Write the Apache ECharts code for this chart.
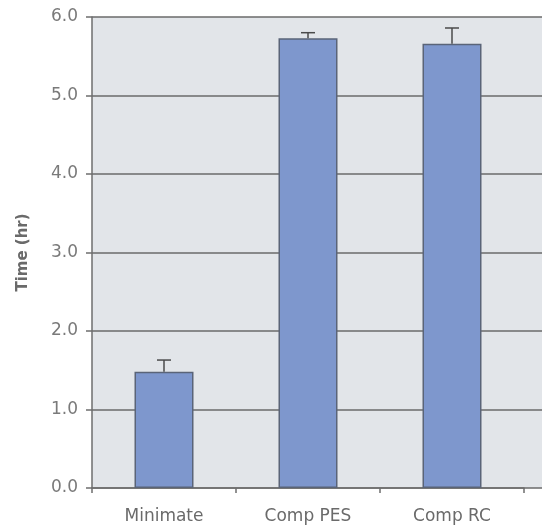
<!DOCTYPE html>
<html>
<head>
<meta charset="utf-8">
<script src="https://cdn.jsdelivr.net/npm/echarts@6/dist/echarts.min.js"></script>
<style>html,body{margin:0;padding:0;background:#fff;}#c{width:542px;height:530px;}</style>
</head>
<body>
<div id="c"></div>
<script>
var categories = ['Minimate', 'Comp PES', 'Comp RC'];
var meanValues = [1.48, 5.73, 5.66];
var errorTops = [1.63, 5.80, 5.86];
var yTicks = [0, 1, 2, 3, 4, 5, 6];

var FONT = 'DejaVu Sans';
var chart = echarts.init(document.getElementById('c'), null, {renderer: 'canvas'});

var errData = categories.map(function (c, i) { return [i, meanValues[i], errorTops[i]]; });

chart.setOption({
  animation: false,
  backgroundColor: '#ffffff',
  grid: [
    {left: 92, right: 0, top: 17, bottom: 42, show: true, backgroundColor: '#e2e5e9', borderWidth: 0},
    {left: 92, right: 18, top: 17, bottom: 42}
  ],
  xAxis: [
    {type: 'value', gridIndex: 0, min: 0, max: 1, show: false},
    {
      type: 'category', gridIndex: 1, data: categories,
      axisLine: {show: true, lineStyle: {color: '#6e6e6e', width: 1.5}},
      axisTick: {show: true, length: 5, lineStyle: {color: '#6e6e6e', width: 1.5}},
      axisLabel: {color: '#6a6a6a', fontFamily: FONT, fontSize: 17, margin: 20}
    }
  ],
  yAxis: [
    {
      type: 'value', gridIndex: 0, min: 0, max: 6, interval: 1,
      name: 'Time (hr)', nameLocation: 'middle', nameGap: 61,
      nameTextStyle: {color: '#6a6a6a', fontFamily: FONT, fontSize: 15, fontWeight: 'bold'},
      axisLine: {show: true, lineStyle: {color: '#6e6e6e', width: 1.5}},
      axisTick: {show: true, length: 6, lineStyle: {color: '#6e6e6e', width: 1.5}},
      axisLabel: {color: '#7a7a7a', fontFamily: FONT, fontSize: 17, margin: 14,
        formatter: function (v) { return v.toFixed(1); }},
      splitLine: {show: true, lineStyle: {color: '#6a6a6a', width: 1.5}}
    },
    {type: 'value', gridIndex: 1, min: 0, max: 6, interval: 1, show: false, splitLine: {show: false}}
  ],
  series: [
    {
      type: 'bar', xAxisIndex: 1, yAxisIndex: 1, data: meanValues, barWidth: 59,
      itemStyle: {color: '#7e97cd', borderColor: '#5a6478', borderWidth: 1.5},
      z: 3
    },
    {
      type: 'custom', xAxisIndex: 1, yAxisIndex: 1, data: errData, z: 4,
      renderItem: function (params, api) {
        var x = api.value(0);
        var lo = api.coord([x, api.value(1)]);
        var hi = api.coord([x, api.value(2)]);
        var hw = 7;
        var st = {stroke: '#4a4a4a', lineWidth: 1.5};
        return {type: 'group', children: [
          {type: 'line', shape: {x1: lo[0], y1: lo[1], x2: hi[0], y2: hi[1]}, style: st},
          {type: 'line', shape: {x1: hi[0] - hw, y1: hi[1], x2: hi[0] + hw, y2: hi[1]}, style: st}
        ]};
      }
    }
  ]
});
</script>
</body>
</html>
